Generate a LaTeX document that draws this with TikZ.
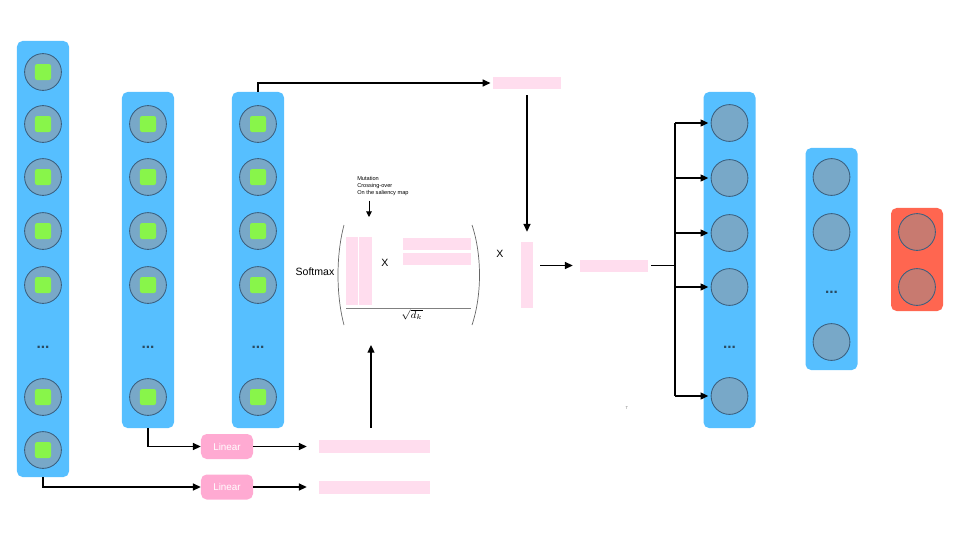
\documentclass[tikz,border=0pt]{standalone}
\usepackage{fontspec}
\setmainfont{Liberation Sans}
\usetikzlibrary{arrows.meta}
\definecolor{colblue}{HTML}{56BFFF}
\definecolor{unitfill}{HTML}{78A8C8}
\definecolor{unitdraw}{HTML}{3A5F7F}
\definecolor{tokgreen}{HTML}{88F54A}
\definecolor{barpink}{HTML}{FFDDEE}
\definecolor{linpink}{HTML}{FFAAD2}
\definecolor{outred}{HTML}{FF6650}
\definecolor{outunit}{HTML}{C87A70}
\definecolor{dotcol}{HTML}{2A4A60}

\begin{document}
\begin{tikzpicture}[x=0.025cm,y=-0.025cm,
	layer/.style={rectangle,rounded corners=4pt,fill=colblue,minimum width=1.3cm,inner sep=0pt},
	unit/.style={circle,fill=unitfill,draw=unitdraw,line width=0.6pt,minimum size=0.92cm,inner sep=0pt},
	token/.style={rectangle,rounded corners=1.5pt,fill=tokgreen,minimum size=0.4cm,inner sep=0pt},
	dots/.style={font=\bfseries\fontsize{11}{11}\selectfont,text=dotcol,inner sep=0pt},
	bar/.style={rectangle,fill=barpink,inner sep=0pt},
	linear/.style={rectangle,rounded corners=4pt,fill=linpink,text=white,font=\fontsize{7}{8}\selectfont,minimum width=1.3cm,minimum height=0.625cm,inner sep=0pt},
	arr/.style={line width=0.9pt,-{Triangle[length=5.5pt,width=5pt]}},
	arrS/.style={line width=0.7pt,-{Triangle[length=4pt,width=4pt]}},
	wire/.style={line width=0.9pt},
	txt/.style={font=\fontsize{7.5}{8}\selectfont,inner sep=0pt}]
	\useasboundingbox (0,0) rectangle (960,540);

	% layers
	\node[layer,minimum height=10.9cm] (colA) at (43,259) {};
	\node[layer,minimum height=8.4cm] (colB) at (148,260) {};
	\node[layer,minimum height=8.4cm] (colC) at (258,260) {};
	\node[layer,minimum height=8.4cm] (colD) at (729.5,260) {};
	\node[layer,minimum height=5.55cm] (colE) at (831.5,259) {};
	\node[layer,fill=outred,minimum height=2.575cm] (colF) at (917,259.5) {};

	\foreach \y [count=\i] in {72,124,177,231,285,397,450}{
		\node[unit] (a\i) at (43,\y) {};
		\node[token] at (a\i) {};
	}
	\node[dots] (aDots) at (43,347) {...};
	\foreach \y [count=\i] in {124,177,231,285,397}{
		\node[unit] (b\i) at (148,\y) {};
		\node[token] at (b\i) {};
		\node[unit] (c\i) at (258,\y) {};
		\node[token] at (c\i) {};
	}
	\node[dots] (bDots) at (148,347) {...};
	\node[dots] (cDots) at (258,347) {...};
	\foreach \y [count=\i] in {123,178,233,287,396}
		\node[unit] (d\i) at (729.5,\y) {};
	\node[dots] (dDots) at (729.5,347) {...};
	\foreach \y [count=\i] in {177,232,342}
		\node[unit] (e\i) at (831.5,\y) {};
	\node[dots] (eDots) at (831.5,292) {...};
	\foreach \y [count=\i] in {232,287}
		\node[unit,fill=outunit] (f\i) at (917,\y) {};

	% bars
	\node[bar,minimum width=1.675cm,minimum height=0.3cm] (pTop) at (527,83) {};
	\node[bar,minimum width=0.3cm,minimum height=1.7cm] (v1) at (352,271) {};
	\node[bar,minimum width=0.325cm,minimum height=1.7cm] (v2) at (365.5,271) {};
	\node[bar,minimum width=1.7cm,minimum height=0.3cm] (h1) at (437,244) {};
	\node[bar,minimum width=1.7cm,minimum height=0.3cm] (h2) at (437,259) {};
	\node[bar,minimum width=0.3cm,minimum height=1.65cm] (vBar) at (527,275) {};
	\node[bar,minimum width=1.7cm,minimum height=0.3cm] (pMid) at (614,265.5) {};
	\node[bar,minimum width=2.775cm,minimum height=0.325cm] (pBotA) at (374.5,446.5) {};
	\node[bar,minimum width=2.775cm,minimum height=0.325cm] (pBotB) at (374.5,487) {};
	\node[linear] (linA) at (227,446.5) {Linear};
	\node[linear] (linB) at (227,487) {Linear};

	% attention
	\node[txt] (softmax) at (315,272) {Softmax};
	\node[txt] (xIn) at (385,263) {X};
	\node[txt] (xOut) at (500,254) {X};
	\node[txt] (sqrtDk) at (412,315) {$\sqrt{d_k}$};
	\draw[line width=0.6pt,gray] (346,308) -- (471,308);
	\draw[line width=0.5pt,black!60] (344,225) .. controls (336,255) and (336,295) .. (344,325);
	\draw[line width=0.5pt,black!60] (472,225) .. controls (482,255) and (482,295) .. (472,325);
	\node[font=\fontsize{4}{5}\selectfont,align=left,anchor=north west,inner sep=0pt] (mut) at (357,176) {Mutation\\Crossing-over\\On the saliency map};
	\coordinate (mutTip) at (369,217);
	\draw[arrS,shorten <=0.12cm] (mut.south -| mutTip) -- (mutTip);
	\coordinate (attnBot) at (371,345);
	\node[font=\fontsize{3}{3}\selectfont,text=gray,inner sep=0pt] (mark) at (627,408) {T};

	% connectors
	\draw[arr,shorten >=0.07cm] (colC.north) |- (pTop.west);
	\draw[arr,shorten <=0.15cm,shorten >=0.25cm] (pTop.south) -- (vBar.north);
	\draw[arr,shorten <=0.175cm,shorten >=0.175cm] (vBar.east |- pMid.west) -- (pMid.west);
	\coordinate (split) at (675,265.5);
	\draw[wire,shorten <=0.075cm] (pMid.east) -- (split);
	\draw[wire] (split |- d1) -- (split |- d5);
	\foreach \i in {1,...,5}
		\draw[arr,shorten >=0.06cm] (split |- d\i) -- (d\i.west);
	\draw[arr] (colB.south) |- (linA.west);
	\draw[arr] (colA.south) |- (linB.west);
	\draw[arr,shorten >=0.3cm] (linA.east) -- (pBotA.west);
	\draw[arr,shorten >=0.3cm] (linB.east) -- (pBotB.west);
	\draw[arr,shorten <=0.3cm] (attnBot |- pBotA.north) -- (attnBot);
\end{tikzpicture}
\end{document}
